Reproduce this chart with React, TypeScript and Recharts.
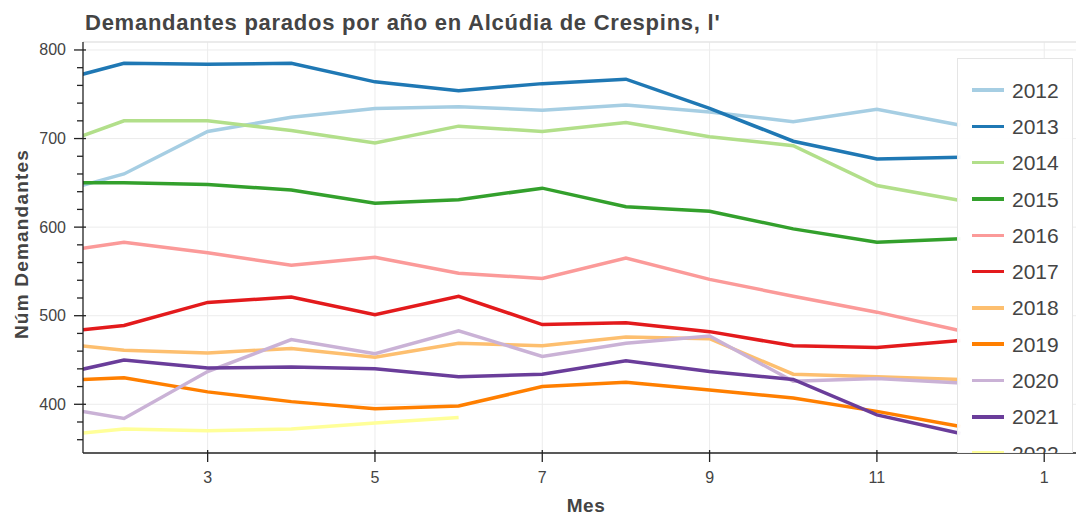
import React from "react";
import { LineChart, Line, XAxis, YAxis, CartesianGrid, ReferenceLine } from "recharts";

const months = [1, 2, 3, 4, 5, 6, 7, 8, 9, 10, 11, 12];
const s2012 = [634, 660, 708, 724, 734, 736, 732, 738, 730, 719, 733, 715];
const s2013 = [760, 785, 784, 785, 764, 754, 762, 767, 734, 697, 677, 679];
const s2014 = [686, 720, 720, 709, 695, 714, 708, 718, 702, 692, 647, 630];
const s2015 = [650, 650, 648, 642, 627, 631, 644, 623, 618, 598, 583, 587];
const s2016 = [569, 583, 571, 557, 566, 548, 542, 565, 541, 522, 504, 483];
const s2017 = [479, 489, 515, 521, 501, 522, 490, 492, 482, 466, 464, 472];
const s2018 = [471, 461, 458, 463, 453, 469, 466, 476, 474, 434, 431, 428];
const s2019 = [426, 430, 414, 403, 395, 398, 420, 425, 416, 407, 392, 375];
const s2020 = [400, 384, 437, 473, 457, 483, 454, 469, 477, 426, 429, 424];
const s2021 = [429, 450, 441, 442, 440, 431, 434, 449, 437, 428, 388, 367];
const s2022 = [363, 372, 370, 372, 379, 385];

const seriesNames = ["2012", "2013", "2014", "2015", "2016", "2017", "2018", "2019", "2020", "2021", "2022"];
const seriesValues = [s2012, s2013, s2014, s2015, s2016, s2017, s2018, s2019, s2020, s2021, s2022];
const colors = ["#a6cee3", "#1f78b4", "#b2df8a", "#33a02c", "#fb9a99", "#e31a1c", "#fdbf6f", "#ff7f00", "#cab2d6", "#6a3d9a", "#ffff99"];

const xTicks = [3, 5, 7, 9, 11, 13];
const xTickLabels = ["3", "5", "7", "9", "11", "1"];
const yMajor = [400, 500, 600, 700, 800];
const yTicks = [360, 380, 400, 420, 440, 460, 480, 500, 520, 540, 560, 580, 600, 620, 640, 660, 680, 700, 720, 740, 760, 780, 800];
const xDomain = [1.51, 13.38];
const yDomain = [345, 809];

const title = "Demandantes parados por año en Alcúdia de Crespins, l'";
const xLabel = "Mes";
const yLabel = "Núm Demandantes";

const data = months.map((m, i) => {
  const row: any = { mes: m };
  seriesNames.forEach((n, k) => {
    const v = seriesValues[k][i];
    if (v !== undefined) row["y" + n] = v;
  });
  return row;
});

const FONT = "'Liberation Sans', Arial, Helvetica, sans-serif";
const TXT = "#444444";

const YTick = (props: any) => {
  const { y, payload } = props;
  const x = 83;
  const major = yMajor.includes(payload.value);
  if (!major) {
    return <line x1={x - 6} x2={x} y1={y} y2={y} stroke="#222" strokeWidth={1.3} />;
  }
  return (
    <g>
      <line x1={x - 9} x2={x + 3} y1={y} y2={y} stroke="#222" strokeWidth={1.3} />
      <text x={x - 17} y={y + 5.5} textAnchor="end" fontSize={16} fill={TXT} fontFamily={FONT}>
        {payload.value}
      </text>
    </g>
  );
};

const XTick = (props: any) => {
  const { x, payload } = props;
  const y = 453;
  const idx = xTicks.indexOf(payload.value);
  return (
    <g>
      <line x1={x} x2={x} y1={y - 3} y2={y + 9} stroke="#222" strokeWidth={1.3} />
      <text x={x} y={y + 30} textAnchor="middle" fontSize={16} fill={TXT} fontFamily={FONT}>
        {idx >= 0 ? xTickLabels[idx] : payload.value}
      </text>
    </g>
  );
};

export default function App() {
  return (
    <div style={{ position: "absolute", left: 0, top: 0, width: 1078, height: 515, background: "#fff" }}>
      <LineChart width={1078} height={515} data={data} margin={{ top: 42, right: 2, bottom: 32, left: 53 }}>
        <CartesianGrid stroke="#ececec" strokeWidth={1} horizontalValues={yMajor} verticalValues={xTicks} />
        <ReferenceLine y={yDomain[1]} stroke="#e5e5e5" strokeWidth={1.5} ifOverflow="visible" />
        <XAxis
          dataKey="mes"
          type="number"
          domain={xDomain}
          allowDataOverflow
          ticks={xTicks}
          interval={0}
          height={30}
          tickSize={0}
          tickMargin={0}
          tickLine={false}
          axisLine={{ stroke: "#222", strokeWidth: 1.3 }}
          tick={<XTick />}
        />
        <YAxis
          type="number"
          domain={yDomain}
          allowDataOverflow
          ticks={yTicks}
          interval={0}
          width={30}
          tickSize={0}
          tickMargin={0}
          tickLine={false}
          axisLine={{ stroke: "#222", strokeWidth: 1.3 }}
          tick={<YTick />}
        />
        {seriesNames.map((n, k) => (
          <Line
            key={n}
            type="linear"
            dataKey={"y" + n}
            name={n}
            stroke={colors[k]}
            strokeWidth={3.5}
            dot={false}
            activeDot={false}
            isAnimationActive={false}
          />
        ))}
      </LineChart>
      <div
        style={{
          position: "absolute",
          left: 957,
          top: 58,
          width: 116,
          height: 395,
          overflow: "hidden",
          boxSizing: "border-box",
          border: "1px solid #e5e5e5",
          borderBottom: "none",
          background: "rgba(255,255,255,0.95)",
          paddingTop: 13,
          fontFamily: FONT,
        }}
      >
        {seriesNames.map((n, k) => (
          <div key={n} style={{ height: 36.3, display: "flex", alignItems: "center" }}>
            <div style={{ width: 32, height: 3.5, background: colors[k], marginLeft: 14, flex: "none" }} />
            <span style={{ marginLeft: 8, fontSize: 21, color: TXT, lineHeight: "21px" }}>{n}</span>
          </div>
        ))}
      </div>
      <svg width={1078} height={515} style={{ position: "absolute", left: 0, top: 0, pointerEvents: "none" }}>
        <text x={85} y={30} fontSize={22} fontWeight="bold" fill={TXT} fontFamily={FONT} letterSpacing={0.75}>
          {title}
        </text>
        <text x={586} y={512} textAnchor="middle" fontSize={19} fontWeight="bold" fill={TXT} fontFamily={FONT} letterSpacing={0.5}>
          {xLabel}
        </text>
        <text
          x={0}
          y={0}
          transform="translate(28,244) rotate(-90)"
          textAnchor="middle"
          fontSize={19}
          fontWeight="bold"
          fill={TXT}
          fontFamily={FONT}
          letterSpacing={1.2}
        >
          {yLabel}
        </text>
      </svg>
    </div>
  );
}
